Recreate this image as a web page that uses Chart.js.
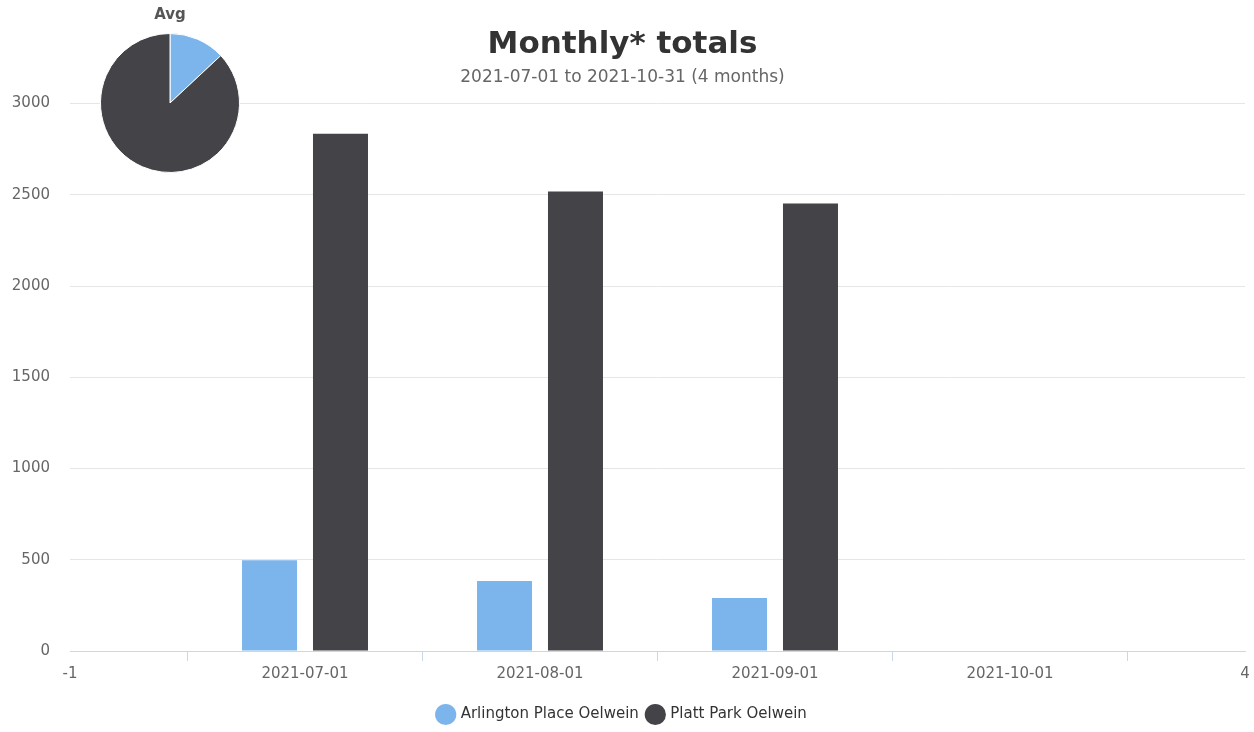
<!DOCTYPE html>
<html>
<head>
<meta charset="utf-8">
<script src="https://cdn.jsdelivr.net/npm/chart.js@4"></script>
<style>
  html, body { margin: 0; padding: 0; background: #fff; }
  #wrap { position: relative; width: 1254px; height: 732px; }
  #bars { position: absolute; left: 0; top: 0; }
  #avg { position: absolute; left: 90px; top: 0; }
</style>
</head>
<body>
<div id="wrap">
  <canvas id="bars" width="1254" height="732"></canvas>
  <canvas id="avg" width="160" height="173"></canvas>
</div>
<script>
const months = ['2021-07-01', '2021-08-01', '2021-09-01', '2021-10-01'];
const seriesNames = ['Arlington Place Oelwein', 'Platt Park Oelwein'];
const arlington = [498, 383, 290];
const platt = [2835, 2518, 2452];
const yTicks = [0, 500, 1000, 1500, 2000, 2500, 3000];
const xEdges = [-1, 4];

const BLUE = '#7cb5ec';
const DARK = '#434348';
const FONT = "'DejaVu Sans', Verdana, sans-serif";

Chart.defaults.font.family = FONT;
Chart.defaults.animation = false;

const avg = arr => arr.reduce((a, b) => a + b, 0) / arr.length;

new Chart(document.getElementById('bars'), {
  type: 'bar',
  data: {
    datasets: [
      { label: seriesNames[0], data: arlington.map((v, i) => ({ x: i, y: v })), backgroundColor: BLUE },
      { label: seriesNames[1], data: platt.map((v, i) => ({ x: i, y: v })), backgroundColor: DARK }
    ]
  },
  options: {
    responsive: false,
    categoryPercentage: 0.604,
    barPercentage: 0.775,
    layout: { padding: { left: 0, right: 9, top: 0, bottom: 0 } },
    plugins: {
      title: {
        display: true,
        text: 'Monthly* totals',
        color: '#333333',
        font: { size: 31, weight: 'bold' },
        padding: { top: 26, bottom: 0 }
      },
      subtitle: {
        display: true,
        text: '2021-07-01 to 2021-10-31 (4 months)',
        color: '#666666',
        font: { size: 17 },
        padding: { top: 4, bottom: 16 }
      },
      legend: {
        position: 'bottom',
        labels: {
          usePointStyle: true,
          pointStyle: 'circle',
          boxWidth: 15,
          boxHeight: 15,
          color: '#333333',
          font: { size: 15 },
          padding: 9
        }
      },
      tooltip: { enabled: false }
    },
    scales: {
      x: {
        type: 'linear',
        offset: false,
        min: xEdges[0],
        max: xEdges[1],
        afterBuildTicks: s => { s.ticks = [-1, 0, 1, 2, 3, 4].map(v => ({ value: v })); },
        afterFit: s => { s.height = 47; },
        grid: {
          offset: true,
          drawOnChartArea: false,
          tickLength: 10,
          color: ctx => ctx.type === 'tick' ? '#ccd6eb' : 'rgba(0,0,0,0)'
        },
        border: { color: '#ccd6eb' },
        ticks: {
          color: '#666666',
          font: { size: 15 },
          padding: 4,
          maxRotation: 0,
          autoSkip: false,
          callback: v => (v === xEdges[0] || v === xEdges[1]) ? String(v) : months[v]
        }
      },
      y: {
        min: 0,
        max: 3000,
        afterBuildTicks: s => { s.ticks = yTicks.map(v => ({ value: v })); },
        afterFit: s => { s.width = 70; },
        grid: { color: '#e6e6e6', drawTicks: false },
        border: { display: false },
        ticks: { color: '#666666', font: { size: 15 }, padding: 20, callback: v => String(v) }
      }
    }
  }
});

new Chart(document.getElementById('avg'), {
  type: 'pie',
  data: {
    labels: seriesNames,
    datasets: [{
      data: [avg(arlington), avg(platt)],
      backgroundColor: [BLUE, DARK],
      borderColor: '#ffffff',
      borderWidth: 1
    }]
  },
  options: {
    responsive: false,
    layout: { padding: 0 },
    plugins: {
      title: {
        display: true,
        text: 'Avg',
        color: '#555555',
        font: { size: 15, weight: 'bold' },
        padding: { top: 6, bottom: 9 }
      },
      legend: { display: false },
      tooltip: { enabled: false }
    }
  }
});
</script>
</body>
</html>
